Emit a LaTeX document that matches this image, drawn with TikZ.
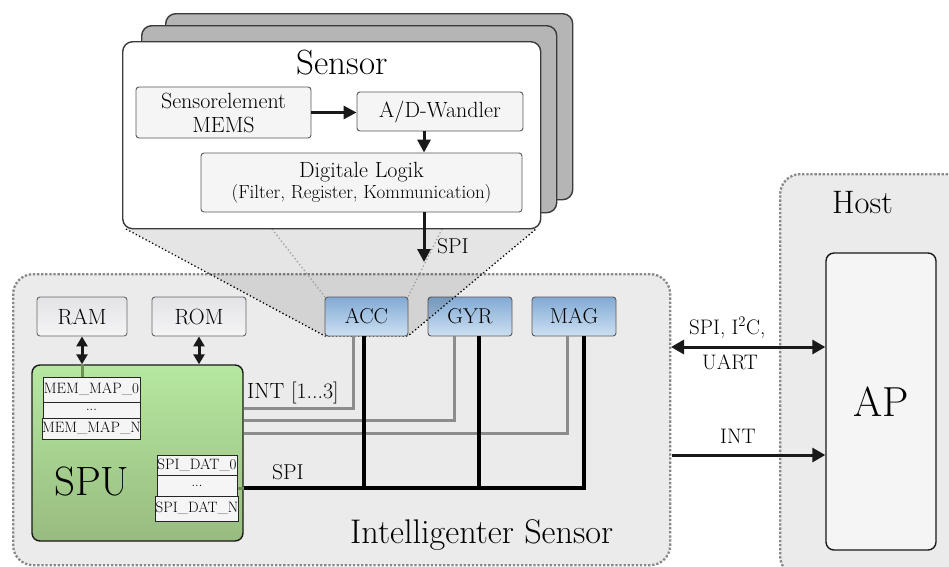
\documentclass[tikz,border=0pt]{standalone}
\usetikzlibrary{arrows.meta,shadings,calc}
\definecolor{bgc}{HTML}{EBEBEB}
\definecolor{dotc}{HTML}{888888}
\definecolor{cardc}{HTML}{B5B5B5}
\definecolor{edgec}{HTML}{3A3A3A}
\definecolor{innerc}{HTML}{F5F5F5}
\definecolor{intc}{HTML}{8C8C8C}
\definecolor{linkc}{HTML}{6E9159}
\newcommand\myfs[1]{\fontsize{#1}{#1}\selectfont}
\tikzset{
  outerbox/.style={draw=dotc, fill=bgc, line width=2.3pt, dash pattern=on 2.3pt off 1.8pt, rounded corners=20pt},
  card/.style={draw=edgec, line width=1.4pt, rounded corners=10pt, inner sep=0pt},
  innerbox/.style={draw=black!65, fill=innerc, line width=0.9pt, rounded corners=3pt, inner sep=0pt, align=center},
  memboxst/.style={draw=black!60, line width=0.9pt, rounded corners=3pt, inner sep=0pt, top color=blue!8!gray!20, bottom color=blue!3!gray!8},
  sensboxst/.style={draw=black!65, line width=0.9pt, rounded corners=3pt, inner sep=0pt, top color={rgb,255:red,130;green,170;blue,212}, bottom color={rgb,255:red,205;green,224;blue,243}},
  cell/.style={draw=black!85, fill=innerc, line width=1pt, inner sep=0pt},
  arr/.style={line width=3pt, draw=black!90, -{Triangle[length=13pt,width=13pt]}},
  darr/.style={line width=3pt, draw=black!90, {Triangle[length=10pt,width=11pt]}-{Triangle[length=10pt,width=11pt]}},
  harr/.style={line width=3pt, draw=black!90},
  blackdot/.style={draw=black, line width=1.3pt, dash pattern=on 1.3pt off 2.4pt},
  graydot/.style={draw=black!38, line width=1.3pt, dash pattern=on 1.3pt off 2.4pt},
  intline/.style={draw=intc, line width=3pt},
  busline/.style={draw=black, line width=4pt},
  lbl/.style={inner sep=0pt, anchor=base west},
}
\begin{document}
\begin{tikzpicture}[x=1pt,y=-1pt]
\useasboundingbox (0,0) rectangle (949,566);

% outer boxes
\node[outerbox, minimum width=196pt, minimum height=402pt, anchor=north west] (hostb) at (779,173) {};
\node[outerbox, minimum width=657pt, minimum height=291pt, anchor=north west] (isb) at (12,273) {};

% sensor stack (back)
\node[card, fill=cardc, minimum width=407pt, minimum height=186pt, anchor=north west] (back) at (165,13) {};
\node[card, fill=cardc, minimum width=415pt, minimum height=187pt, anchor=north west] (mid) at (141,25) {};

% sensor modules (GYR, MAG first)
\node[sensboxst, minimum width=84pt, minimum height=39pt, font=\myfs{21.5}] (gyr) at (470,316.5) {GYR};
\node[sensboxst, minimum width=84pt, minimum height=39pt, font=\myfs{21.5}] (mag) at (574,316.5) {MAG};
\coordinate (accsw) at (325,336);
\coordinate (accse) at (408,336);
\coordinate (accnw) at (325,297);
\coordinate (accne) at (408,297);
\coordinate (fsw) at (126,229);
\coordinate (fse) at (536,229);
\coordinate (g1) at (272,229);
\coordinate (g2) at (442,229);

% projection
\fill[black, opacity=0.1] (fsw) -- (accsw) -- (accse) -- (fse) -- cycle;
\draw[graydot] (g1) -- (accnw);
\draw[graydot] (g2) -- (accne);
\draw[blackdot] (fsw) -- (accsw) -- (accse) -- (fse);

% front card
\node[card, fill=white, minimum width=418pt, minimum height=187pt, anchor=north west] (front) at (122,41) {};
\node[inner sep=0pt, font=\myfs{35}] (sensortitle) at (342,63) {Sensor};
\node[innerbox, minimum width=175pt, minimum height=51pt, font=\fontsize{22}{24}\selectfont] (sel) at (223.5,112.5) {Sensorelement\\MEMS};
\node[innerbox, minimum width=166pt, minimum height=39pt, font=\myfs{22}] (ad) at (440,111.5) {A/D-Wandler};
\node[innerbox, minimum width=321pt, minimum height=59pt, font=\fontsize{22}{21}\selectfont] (dl) at (361.5,182.5) {Digitale Logik\\{\myfs{19}(Filter, Register, Kommunication)}};
\coordinate (spix) at (424,0);
\coordinate (spitip) at (424,262);
\draw[arr] (sel.east) -- (sel.east -| ad.west);
\draw[arr] (spix |- ad.south) -- (spix |- dl.north);
\draw[arr] (spix |- dl.south) -- (spitip);
\node[lbl, font=\myfs{21.5}] (spilbl1) at (437,253) {SPI};

% ACC on top
\node[sensboxst, minimum width=83pt, minimum height=39pt, font=\myfs{21.5}] (acc) at (366.5,316.5) {ACC};

% memory
\node[memboxst, minimum width=90pt, minimum height=39pt, font=\myfs{22}] (ram) at (82,316.5) {RAM};
\node[memboxst, minimum width=94pt, minimum height=39pt, font=\myfs{22}] (rom) at (199,316.5) {ROM};

% SPU
\node[draw=black!90, line width=1.4pt, rounded corners=8pt, top color={rgb,255:red,182;green,232;blue,160}, bottom color={rgb,255:red,152;green,188;blue,128}, minimum width=211pt, minimum height=176pt, inner sep=0pt] (spu) at (137.5,453) {};
\node[lbl, font=\myfs{41}] (spulbl) at (54,495) {SPU};

% tables
\node[cell, minimum width=97pt, minimum height=25pt, font=\myfs{15}] (mm0) at (91.5,389.5) {MEM\_MAP\_0};
\node[cell, minimum width=97pt, minimum height=16pt, font=\myfs{13}] (mm1) at (91.5,410) {...};
\node[cell, minimum width=97pt, minimum height=21pt, font=\myfs{15}] (mmn) at (91.5,428.5) {MEM\_MAP\_N};
\node[cell, minimum width=80pt, minimum height=20pt, font=\myfs{15}] (sd0) at (197,465) {SPI\_DAT\_0};
\node[cell, minimum width=80pt, minimum height=21pt, font=\myfs{13}] (sd1) at (197,485.5) {...};
\node[cell, minimum width=80pt, minimum height=25pt, font=\myfs{15}] (sdn) at (197,508.5) {SPI\_DAT\_N};

% RAM/ROM links
\draw[darr] (ram.south) -- (ram.south |- spu.north);
\draw[darr] (rom.south) -- (rom.south |- spu.north);
\draw[draw=linkc, line width=3pt] (ram.south |- spu.north) -- (mm0.north -| ram.south);

% INT lines
\coordinate (i1) at (353,408);
\coordinate (i2) at (454,420);
\coordinate (i3) at (567,433);
\draw[intline] (acc.south -| i1) -- (i1) -- (i1 -| spu.east);
\draw[intline] (gyr.south -| i2) -- (i2) -- (i2 -| spu.east);
\draw[intline] (mag.south -| i3) -- (i3) -- (i3 -| spu.east);
\node[lbl, font=\myfs{22}] (intlbl) at (247,398) {INT [1...3]};

% SPI bus
\coordinate (b1) at (364,488);
\coordinate (b2) at (479,488);
\coordinate (b3) at (584,488);
\draw[draw=linkc, line width=3pt] (sd1.east |- b1) -- (spu.east |- b1);
\draw[busline] (spu.east |- b1) -- (b3) -- (mag.south -| b3);
\draw[busline] (acc.south -| b1) -- (b1);
\draw[busline] (gyr.south -| b2) -- (b2);
\node[lbl, font=\myfs{21.5}] (spilbl2) at (272,479) {SPI};
\node[lbl, font=\myfs{34.2}] (isblbl) at (350,543) {Intelligenter Sensor};

% Host
\node[lbl, font=\myfs{32.5}] (hostlbl) at (832,213) {Host};
\node[draw=black!90, line width=1.4pt, rounded corners=8pt, fill=innerc, minimum width=110pt, minimum height=297pt, inner sep=0pt, font=\myfs{42}] (ap) at (881,401.5) {AP};
\coordinate (h1) at (671,347);
\coordinate (h2) at (672,455);
\draw[harr, {Triangle[length=13pt,width=14pt]}-{Triangle[length=13pt,width=14pt]}] (h1) -- (h1 -| ap.west);
\draw[harr, -{Triangle[length=13pt,width=14pt]}] (h2) -- (h2 -| ap.west);
\node[lbl, font=\myfs{21}] (l1) at (689,334) {SPI, I\textsuperscript{2}C,};
\node[lbl, font=\myfs{21}] (l2) at (702,369) {UART};
\node[lbl, font=\myfs{21}] (l3) at (720,443) {INT};
\end{tikzpicture}
\end{document}
